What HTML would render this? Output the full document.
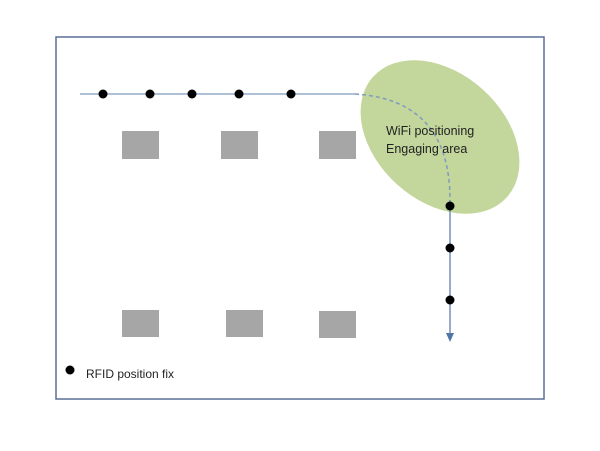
<!DOCTYPE html>
<html><head><meta charset="utf-8"><style>html,body{margin:0;padding:0;background:#fff;}svg{display:block}</style></head>
<body>
<svg width="600" height="451" viewBox="0 0 600 451" xmlns="http://www.w3.org/2000/svg">
<rect x="56" y="37" width="488" height="362" fill="#fff" stroke="#5a6f96" stroke-width="1.5"/>
<ellipse cx="440" cy="137" rx="90" ry="64" transform="rotate(42 440 137)" fill="#c3d69b"/>
<g fill="#a6a6a6">
<rect x="122" y="131" width="37" height="28"/>
<rect x="221" y="131" width="37" height="28"/>
<rect x="319" y="131" width="37" height="28"/>
<rect x="122" y="310" width="37" height="27"/>
<rect x="226" y="310" width="37" height="27"/>
<rect x="319" y="311" width="37" height="27"/>
</g>
<line x1="80" y1="94" x2="355" y2="94" stroke="#7f9cbf" stroke-width="1.2"/>
<path d="M355 94 Q450 100 450 200" fill="none" stroke="#7f9cbf" stroke-width="1.5" stroke-dasharray="4,3"/>
<line x1="450" y1="200" x2="450" y2="340" stroke="#4f76a6" stroke-width="1.2"/>
<path d="M446 333 L450 342 L454 333 Z" fill="#4f76a6"/>
<g fill="#000">
<circle cx="103" cy="94" r="4.5"/><circle cx="150" cy="94" r="4.5"/><circle cx="192" cy="94" r="4.5"/>
<circle cx="239" cy="94" r="4.5"/><circle cx="291" cy="94" r="4.5"/>
<circle cx="450" cy="206" r="4.5"/><circle cx="450" cy="248" r="4.5"/><circle cx="450" cy="300" r="4.5"/>
<circle cx="70" cy="370" r="4.5"/>
</g>
<g font-family="'Liberation Sans', sans-serif" font-size="12.5" fill="#222">
<text x="386" y="135">WiFi positioning</text>
<text x="386" y="153">Engaging area</text>
<text x="86" y="378" font-size="12">RFID position fix</text>
</g>
</svg>
</body></html>
